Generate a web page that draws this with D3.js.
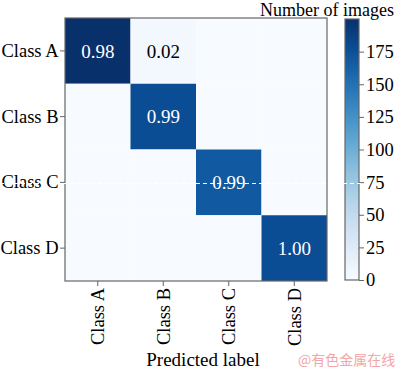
<!DOCTYPE html>
<html>
<head>
<meta charset="utf-8">
<script src="https://cdn.jsdelivr.net/npm/d3@7"></script>
<style>
  body { margin: 0; background: #fff; }
  svg text { font-family: "Liberation Serif", "Times New Roman", serif; }
</style>
</head>
<body>
<svg id="cm" width="400" height="369"></svg>
<script>
(() => {

// data
const classes = ['Class A', 'Class B', 'Class C', 'Class D'];
const counts_a = [198, 4, 0, 0];
const counts_b = [0, 176, 0, 0];
const counts_c = [0, 0, 166, 0];
const counts_d = [0, 0, 0, 176];
const labels_a = ['0.98', '0.02', '', ''];
const labels_b = ['', '0.99', '', ''];
const labels_c = ['', '', '0.99', ''];
const labels_d = ['', '', '', '1.00'];
const cbar_ticks = [0, 25, 50, 75, 100, 125, 150, 175];

const counts = [counts_a, counts_b, counts_c, counts_d];
const labels = [labels_a, labels_b, labels_c, labels_d];

// chart parameters
const left = 65, top = 18, plot_w = 262, plot_h = 263;
const cbar_x = 345, cbar_w = 14, cbar_top = 19, cbar_bottom = 280;
const frame_color = '#666';
const font_size = 19;
const tick_font = 18.5;

let svg = d3.select('#cm');

let vmax = d3.max(counts.flat());
let color = d3.scaleSequential(d3.interpolateBlues).domain([0, vmax]);

let x_scale = d3.scaleBand().domain(classes).range([left, left + plot_w]);
let y_scale = d3.scaleBand().domain(classes).range([top, top + plot_h]);

// flatten matrix to cells
let cells = [];
counts.forEach((row, i) => row.forEach((v, j) => {
    cells.push({actual: classes[i], predicted: classes[j], count: v, label: labels[i][j]});
}));

svg.append('g')
    .selectAll('rect')
    .data(cells)
    .enter()
    .append('rect')
    .attr('x', d => x_scale(d.predicted))
    .attr('y', d => y_scale(d.actual))
    .attr('width', x_scale.bandwidth())
    .attr('height', y_scale.bandwidth())
    .attr('fill', d => color(d.count));

svg.append('g')
    .selectAll('text')
    .data(cells.filter(d => d.label != ''))
    .enter()
    .append('text')
    .attr('x', d => x_scale(d.predicted) + x_scale.bandwidth() / 2)
    .attr('y', d => y_scale(d.actual) + y_scale.bandwidth() / 2)
    .attr('dy', '0.35em')
    .attr('text-anchor', 'middle')
    .style('font-size', font_size + 'px')
    .style('fill', d => d.count > vmax / 2 ? '#fff' : '#000')
    .text(d => d.label);

// frame
svg.append('rect')
    .attr('x', left).attr('y', top)
    .attr('width', plot_w).attr('height', plot_h)
    .attr('fill', 'none')
    .attr('stroke', frame_color)
    .attr('stroke-width', 1.2);

// axes
let y_axis = d3.axisLeft(y_scale).tickSize(5).tickPadding(1.5);
let gy = svg.append('g').attr('transform', `translate(${left},0)`).call(y_axis);

let x_axis = d3.axisBottom(x_scale).tickSize(5).tickPadding(2);
let gx = svg.append('g').attr('transform', `translate(0,${top + plot_h})`).call(x_axis);
gx.selectAll('text')
    .attr('transform', 'rotate(-90)')
    .attr('text-anchor', 'end')
    .attr('x', -7)
    .attr('y', 0)
    .attr('dy', '0.35em');

[gy, gx].forEach(g => {
    g.select('.domain').remove();
    g.selectAll('line').attr('stroke', frame_color);
    g.selectAll('text').style('font-size', tick_font + 'px').style('font-family', '"Liberation Serif", serif').attr('fill', '#000');
});

svg.append('text')
    .attr('x', 203)
    .attr('y', 366)
    .attr('text-anchor', 'middle')
    .style('font-size', font_size + 'px')
    .text('Predicted label');

// colorbar
let cb_scale = d3.scaleLinear().domain([0, 200]).range([cbar_bottom, cbar_top]);
let defs = svg.append('defs');
let grad = defs.append('linearGradient')
    .attr('id', 'cbar_grad')
    .attr('x1', 0).attr('y1', 1).attr('x2', 0).attr('y2', 0);
d3.range(0, 1.0001, 0.1).forEach(t => {
    grad.append('stop').attr('offset', t).attr('stop-color', d3.interpolateBlues(t));
});

svg.append('rect')
    .attr('x', cbar_x).attr('y', cbar_top)
    .attr('width', cbar_w).attr('height', cbar_bottom - cbar_top)
    .attr('fill', 'url(#cbar_grad)')
    .attr('stroke', frame_color)
    .attr('stroke-width', 1.2);

let cb_axis = d3.axisRight(cb_scale).tickValues(cbar_ticks).tickSize(5).tickPadding(2);
let gc = svg.append('g').attr('transform', `translate(${cbar_x + cbar_w},0)`).call(cb_axis);
gc.select('.domain').remove();
gc.selectAll('line').attr('stroke', frame_color);
gc.selectAll('text').style('font-size', tick_font + 'px').style('font-family', '"Liberation Serif", serif').attr('fill', '#000');

svg.append('text')
    .attr('x', 260)
    .attr('y', 16)
    .style('font-size', '18px')
    .text('Number of images');

// white dashed line across the picture
svg.append('line')
    .attr('x1', 0).attr('x2', 362)
    .attr('y1', 183.5).attr('y2', 183.5)
    .attr('stroke', '#fff')
    .attr('stroke-width', 1)
    .attr('stroke-dasharray', '4,3');

// watermark
svg.append('text')
    .attr('x', 298)
    .attr('y', 365)
    .style('font-family', '"Noto Sans CJK SC", sans-serif')
    .style('font-size', '14px')
    .style('fill', '#f2a7a7')
    .text('@有色金属在线');

})();
</script>
</body>
</html>
